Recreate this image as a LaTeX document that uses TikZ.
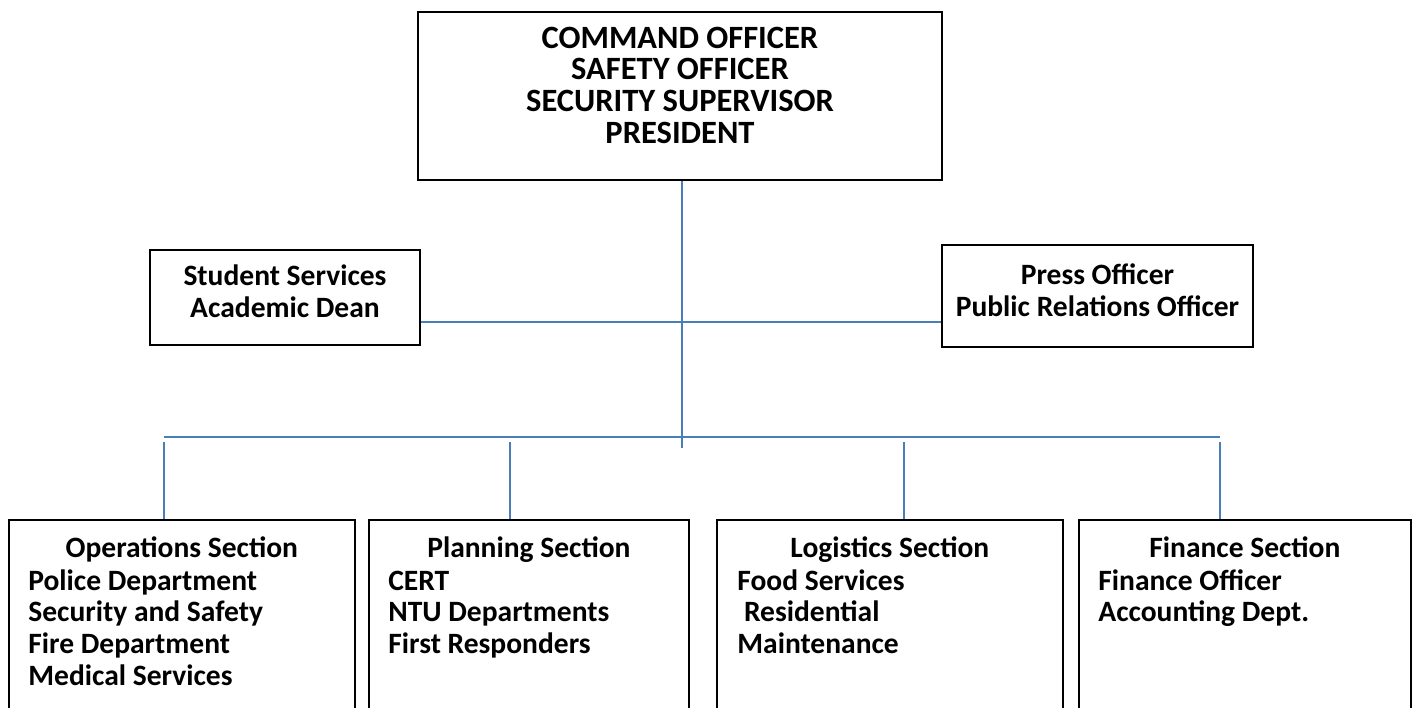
\documentclass[tikz,border=0pt]{standalone}
\usepackage{fontspec}
\setmainfont{Carlito}
\usetikzlibrary{positioning}
\definecolor{linkblue}{HTML}{4A7EBB}

\begin{document}
\begin{tikzpicture}[box/.style={draw, line width=1pt, rectangle, inner sep=0pt}, txt/.style={inner sep=0pt, font=\bfseries\fontsize{16.8}{18.2}\selectfont, execute at begin node=\spaceskip 0pt\relax}, link/.style={draw=linkblue, line width=0.9pt}]
        \useasboundingbox (0,0) rectangle (28.24,-14.14);

        % top and side boxes
        \node[box, minimum width=10.48cm, minimum height=3.36cm] (cmd) at (13.6,-1.92) {};
        \node[txt, font=\bfseries\fontsize{18.5}{18.2}\selectfont, align=flush center, text width=10cm, anchor=base] (cmdtxt) at (13.6,-0.96) {COMMAND OFFICER\\SAFETY OFFICER\\SECURITY SUPERVISOR\\PRESIDENT};
        \node[box, minimum width=5.4cm, minimum height=1.9cm] (student) at (5.7,-5.95) {};
        \node[txt, align=center] (studenttxt) at ([yshift=0.12cm]student.center) {Student Services\\Academic Dean};
        \node[box, minimum width=6.22cm, minimum height=2.04cm] (press) at (21.95,-5.92) {};
        \node[txt, align=center] (presstxt) at ([yshift=0.12cm]press.center) {Press Officer\\Public Relations Officer};

        % section boxes
        \node[box, minimum width=6.92cm, minimum height=4.6cm, anchor=north west] (ops) at (0.16,-10.38) {};
        \node[box, minimum width=6.4cm, minimum height=4.6cm, anchor=north west] (plan) at (7.36,-10.38) {};
        \node[box, minimum width=6.92cm, minimum height=4.6cm, anchor=north west] (logi) at (14.32,-10.38) {};
        \node[box, minimum width=6.64cm, minimum height=4.6cm, anchor=north west] (fin) at (21.56,-10.38) {};

        \node[txt, anchor=base] (opstitle) at (ops.north |- 0,-11.14) {Operations Section};
        \node[txt, anchor=base] (plantitle) at (plan.north |- 0,-11.14) {Planning Section};
        \node[txt, anchor=base] (logititle) at (logi.north |- 0,-11.14) {Logistics Section};
        \node[txt, anchor=base] (fintitle) at (fin.north |- 0,-11.14) {Finance Section};

        \node[txt, align=left, text width=6cm, anchor=base west] (opsitems) at (0.56,-11.8) {Police Department\\Security and Safety\\Fire Department\\Medical Services};
        \node[txt, align=left, text width=6cm, anchor=base west] (planitems) at (7.76,-11.8) {CERT\\NTU Departments\\First Responders};
        \node[txt, align=left, text width=6cm, anchor=base west] (logiitems) at (14.74,-11.8) {Food Services\\\ Residential\\Maintenance};
        \node[txt, align=left, text width=6cm, anchor=base west] (finitems) at (21.96,-11.8) {Finance Officer\\Accounting Dept.};

        % connectors
        \coordinate (trunkend) at (13.64,-8.96);
        \coordinate (mid) at (13.64,-6.44);
        \coordinate (busl) at (3.28,-8.74);
        \coordinate (busr) at (24.4,-8.74);
        \coordinate (d1) at (3.28,-8.84);
        \coordinate (d2) at (10.2,-8.84);
        \coordinate (d3) at (18.08,-8.84);
        \coordinate (d4) at (24.4,-8.84);

        \draw[link] (cmd.south -| trunkend) -- (trunkend);
        \draw[link] (mid -| student.east) -- (mid -| press.west);
        \draw[link] (busl) -- (busr);
        \draw[link] (d1) -- (d1 |- ops.north);
        \draw[link] (d2) -- (d2 |- plan.north);
        \draw[link] (d3) -- (d3 |- logi.north);
        \draw[link] (d4) -- (d4 |- fin.north);
      \end{tikzpicture}
\end{document}
